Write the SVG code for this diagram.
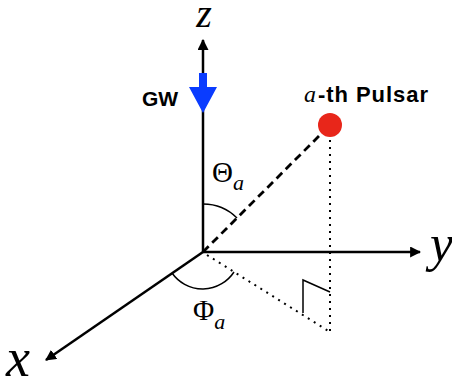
<svg xmlns="http://www.w3.org/2000/svg" width="452" height="387" viewBox="0 0 452 387">
<defs>
<style>
.axis{stroke:#000;stroke-width:2.5;fill:none}
.dash{stroke:#000;stroke-width:2.8;fill:none;stroke-dasharray:8 5}
.dot{stroke:#000;stroke-width:2;fill:none;stroke-dasharray:2 5}
.thin{stroke:#000;stroke-width:1.5;fill:none}
.var{font-family:"Liberation Serif",serif;font-style:italic;fill:#000}
.greek{font-family:"Liberation Serif",serif;fill:#000}
.lbl{font-family:"Liberation Sans",Arial,sans-serif;font-weight:bold;fill:#000}
</style>
<marker id="ah" viewBox="0 0 10 10" refX="9" refY="5" markerWidth="4.4" markerHeight="4.4" orient="auto" markerUnits="strokeWidth">
<path d="M0,0 L10,5 L0,10 z" fill="#000"/>
</marker>
</defs>
<g id="connectors">
<line class="axis" x1="203" y1="252" x2="203" y2="40" marker-end="url(#ah)"/>
<line class="axis" x1="203" y1="252" x2="420" y2="252" marker-end="url(#ah)"/>
<line class="axis" x1="203" y1="252" x2="46" y2="360" marker-end="url(#ah)"/>
<line class="dash" x1="203" y1="252" x2="322" y2="133"/>
<line class="dot" x1="330" y1="140" x2="330" y2="334"/>
<line class="dot" x1="207" y1="255" x2="330" y2="332"/>
<polyline class="thin" points="303,313 303,280 330,292"/>
<path class="thin" d="M203,204 A48,48 0 0 1 237,218"/>
<path class="thin" d="M172,273 A37.5,37.5 0 0 0 234,272"/>
</g>
<g id="gw">
<path d="M199,73 H207 V87 H217 L203,113 L189,87 H199 Z" fill="#0a3cff"/>
<text class="lbl" x="142" y="106" font-size="21">GW</text>
</g>
<g id="pulsar">
<circle cx="330" cy="125" r="12" fill="#e8261a"/>
<text class="var" x="304" y="102" font-size="24">a</text>
<text class="lbl" x="318" y="102" font-size="22" textLength="110" lengthAdjust="spacing">-th Pulsar</text>
</g>
<g id="labels">
<text class="var" x="204" y="27" font-size="40" text-anchor="middle">z</text>
<text class="var" x="430" y="261" font-size="52">y</text>
<text class="var" x="6" y="376" font-size="54">x</text>
<text class="greek" x="212" y="182" font-size="29">Θ<tspan class="var" font-size="22" dy="8">a</tspan></text>
<text class="greek" x="193" y="320" font-size="29">Φ<tspan class="var" font-size="22" dy="9">a</tspan></text>
</g>
</svg>
